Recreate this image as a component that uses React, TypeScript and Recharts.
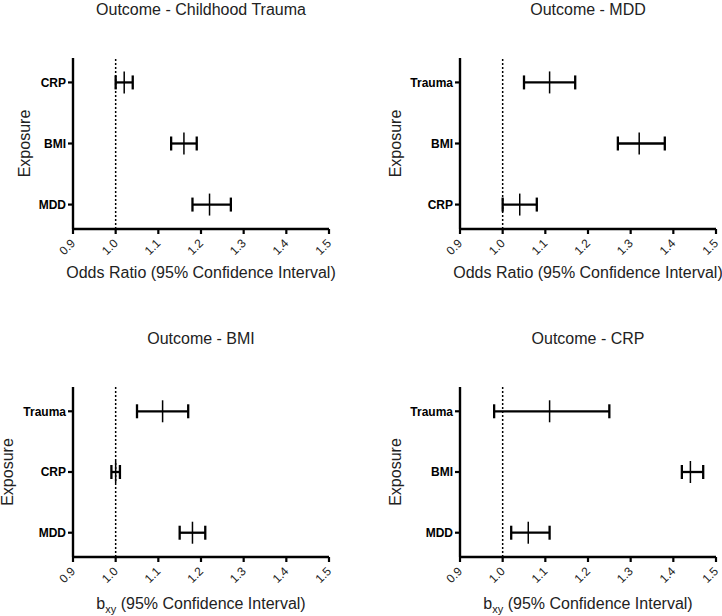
import React from "react";
import { ScatterChart, Scatter, XAxis, YAxis, ErrorBar, ReferenceLine } from "recharts";

// exposures are listed top to bottom, as they appear in each panel
const traumaExposures = ["CRP", "BMI", "MDD"];
const traumaEst = [1.02, 1.16, 1.22];
const traumaLow = [1.0, 1.13, 1.18];
const traumaHigh = [1.04, 1.19, 1.27];

const mddExposures = ["Trauma", "BMI", "CRP"];
const mddEst = [1.11, 1.32, 1.04];
const mddLow = [1.05, 1.27, 1.0];
const mddHigh = [1.17, 1.38, 1.08];

const bmiExposures = ["Trauma", "CRP", "MDD"];
const bmiEst = [1.11, 1.0, 1.18];
const bmiLow = [1.05, 0.99, 1.15];
const bmiHigh = [1.17, 1.01, 1.21];

const crpExposures = ["Trauma", "BMI", "MDD"];
const crpEst = [1.11, 1.44, 1.06];
const crpLow = [0.98, 1.42, 1.02];
const crpHigh = [1.25, 1.47, 1.11];

const xTicks = [0.9, 1.0, 1.1, 1.2, 1.3, 1.4, 1.5];

const FONT = '"Liberation Sans", Arial, Helvetica, sans-serif';

const XTick = ({ x, y, payload }: any) => (
  <g transform={`translate(${x + 3},${y + 8})`}>
    <text textAnchor="end" transform="rotate(-45)" fontSize={12} fill="#222">
      {Number(payload.value).toFixed(1)}
    </text>
  </g>
);

const Marker = (props: any) => {
  const { cx, cy } = props;
  if (cx == null || cy == null) return null;
  return <line x1={cx} x2={cx} y1={cy - 11} y2={cy + 11} stroke="#000" strokeWidth={1.5} />;
};

type PanelProps = {
  title: string;
  exposures: string[];
  est: number[];
  low: number[];
  high: number[];
  bxy?: boolean;
  left: number;
  top: number;
  height: number;
  plotTop: number;
  axisHeight: number;
  yAxisWidth: number;
  yLabelX: number;
  xLabelOffset: number;
};

function Panel(p: PanelProps) {
  const n = p.exposures.length;
  const rows = p.exposures.map((name, i) => ({
    name,
    pos: n - i,
    est: p.est[i],
    err: [p.est[i] - p.low[i], p.high[i] - p.est[i]],
  }));
  const plotWidth = 256;
  const chartWidth = 361;
  const plotHeight = p.height - p.plotTop - p.axisHeight;

  return (
    <div style={{ position: "absolute", left: p.left, top: p.top, width: chartWidth, height: p.height }}>
      <div
        style={{
          position: "absolute",
          left: p.yAxisWidth,
          width: plotWidth,
          top: p.top === 0 ? 2 : 30.5,
          fontSize: 16,
          lineHeight: "16px",
          textAlign: "center",
          color: "#222",
          whiteSpace: "nowrap",
        }}
      >
        {p.title}
      </div>
      <ScatterChart
        width={chartWidth}
        height={p.height}
        margin={{ top: p.plotTop, right: chartWidth - p.yAxisWidth - plotWidth, bottom: 0, left: 0 }}
      >
        <XAxis
          type="number"
          dataKey="est"
          domain={[0.9, 1.5]}
          ticks={xTicks}
          allowDataOverflow
          interval={0}
          height={p.axisHeight}
          axisLine={{ stroke: "#000", strokeWidth: 2.4 }}
          tickLine={{ stroke: "#000", strokeWidth: 2.2 }}
          tickSize={5}
          tickMargin={2}
          tick={<XTick />}
          label={(lp: any) => {
            const vb = lp.viewBox || {};
            const cx = (vb.x ?? p.yAxisWidth) + (vb.width ?? plotWidth) / 2;
            const y = (vb.y ?? p.plotTop + plotHeight) + p.xLabelOffset;
            return p.bxy ? (
              <text x={cx} y={y} textAnchor="middle" fontSize={16} fill="#222">
                b
                <tspan dy={4} fontSize={11}>xy</tspan>
                <tspan dy={-4}> (95% Confidence Interval)</tspan>
              </text>
            ) : (
              <text x={cx} y={y} textAnchor="middle" fontSize={16} fill="#222">
                Odds Ratio (95% Confidence Interval)
              </text>
            );
          }}
        />
        <YAxis
          type="number"
          dataKey="pos"
          domain={[0.6, 3.4]}
          ticks={[1, 2, 3]}
          allowDataOverflow
          width={p.yAxisWidth}
          axisLine={{ stroke: "#000", strokeWidth: 2.4 }}
          tickLine={{ stroke: "#000", strokeWidth: 2.2 }}
          tickSize={5}
          tickMargin={2}
          tick={{ fontSize: 12, fontWeight: 700, fill: "#000" }}
          tickFormatter={(v: number) => p.exposures[n - v] ?? ""}
          label={(lp: any) => {
            const vb = lp.viewBox || {};
            const cy = (vb.y ?? p.plotTop) + (vb.height ?? plotHeight) / 2;
            return (
              <text
                x={p.yLabelX}
                y={cy}
                textAnchor="middle"
                fontSize={16}
                fill="#222"
                transform={`rotate(-90, ${p.yLabelX}, ${cy})`}
              >
                Exposure
              </text>
            );
          }}
        />
        <ReferenceLine x={1} stroke="#000" strokeWidth={1.5} strokeDasharray="2 2" />
        <Scatter data={rows} shape={<Marker />} isAnimationActive={false}>
          <ErrorBar dataKey="err" direction="x" width={7} strokeWidth={2.3} stroke="#000" isAnimationActive={false} />
        </Scatter>
      </ScatterChart>
    </div>
  );
}

export default function App() {
  return (
    <div
      style={{
        position: "absolute",
        left: 0,
        top: 0,
        width: 722,
        height: 616,
        background: "#fff",
        fontFamily: FONT,
        overflow: "hidden",
      }}
    >
      <Panel
        title="Outcome - Childhood Trauma"
        exposures={traumaExposures}
        est={traumaEst}
        low={traumaLow}
        high={traumaHigh}
        left={0}
        top={0}
        height={290}
        plotTop={58}
        axisHeight={61}
        yAxisWidth={73}
        yLabelX={30}
        xLabelOffset={49}
      />
      <Panel
        title="Outcome - MDD"
        exposures={mddExposures}
        est={mddEst}
        low={mddLow}
        high={mddHigh}
        left={361}
        top={0}
        height={290}
        plotTop={58}
        axisHeight={61}
        yAxisWidth={99}
        yLabelX={39.5}
        xLabelOffset={49}
      />
      <Panel
        title="Outcome - BMI"
        exposures={bmiExposures}
        est={bmiEst}
        low={bmiLow}
        high={bmiHigh}
        bxy
        left={0}
        top={300}
        height={316}
        plotTop={87}
        axisHeight={59}
        yAxisWidth={73}
        yLabelX={13}
        xLabelOffset={51.5}
      />
      <Panel
        title="Outcome - CRP"
        exposures={crpExposures}
        est={crpEst}
        low={crpLow}
        high={crpHigh}
        bxy
        left={361}
        top={300}
        height={316}
        plotTop={87}
        axisHeight={59}
        yAxisWidth={99}
        yLabelX={39.5}
        xLabelOffset={51.5}
      />
    </div>
  );
}
